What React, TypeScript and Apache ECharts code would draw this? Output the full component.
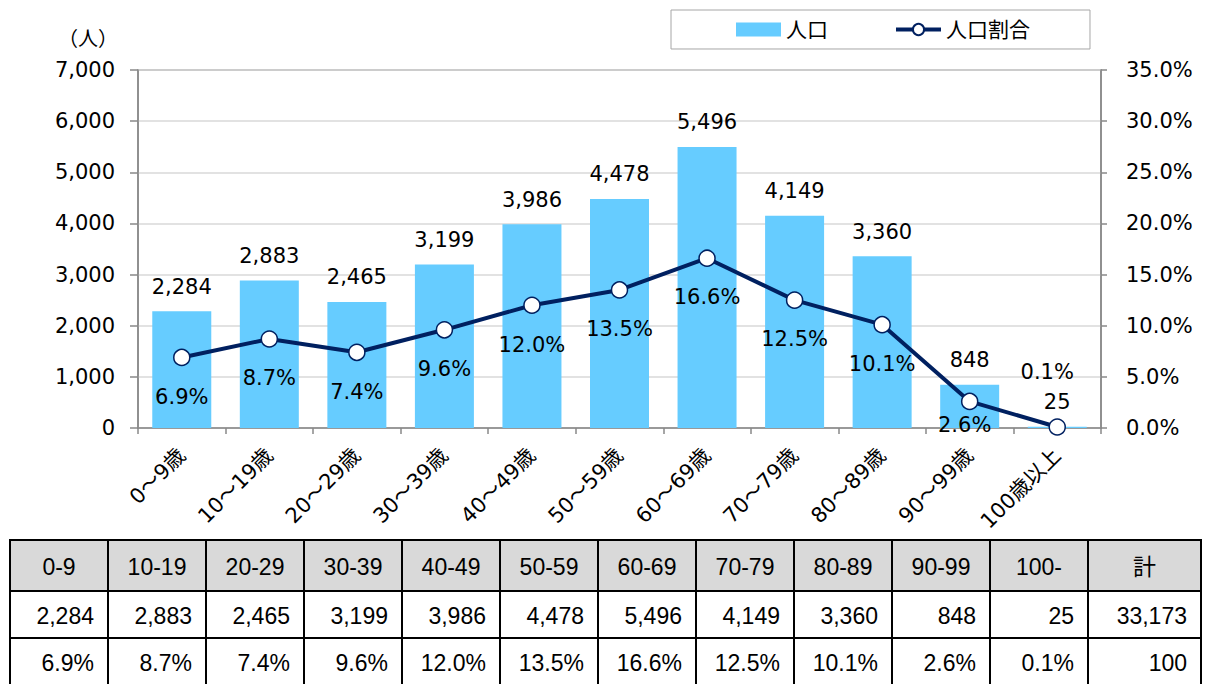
import React, { useEffect, useRef } from "react";
import * as echarts from "echarts";

// ---- data ----
const categories = ["0～9歳", "10～19歳", "20～29歳", "30～39歳", "40～49歳", "50～59歳", "60～69歳", "70～79歳", "80～89歳", "90～99歳", "100歳以上"];
const population = [2284, 2883, 2465, 3199, 3986, 4478, 5496, 4149, 3360, 848, 25];
const ratio = [6.9, 8.7, 7.4, 9.6, 12.0, 13.5, 16.6, 12.5, 10.1, 2.6, 0.1];
const seriesNames = ["人口", "人口割合"];
const unitLabel = "（人）";
const leftAxis = { min: 0, max: 7000, interval: 1000 };
const rightAxis = { min: 0, max: 35, interval: 5 };
const tableHeader = ["0-9", "10-19", "20-29", "30-39", "40-49", "50-59", "60-69", "70-79", "80-89", "90-99", "100-", "計"];
const totalRatioLabel = "100";

const FONT = '"DejaVu Sans", "Noto Sans CJK JP", sans-serif';
const TABLE_FONT = '"Liberation Sans", "Noto Sans CJK JP", sans-serif';
const BAR_COLOR = "#66CCFF";
const LINE_COLOR = "#002060";

const fmtInt = (v: number) => v.toLocaleString("en-US");
const fmtPct = (v: number) => v.toFixed(1) + "%";

function buildTable() {
  const total = population.reduce((a, b) => a + b, 0);
  const rows = [
    tableHeader,
    [...population.map(fmtInt), fmtInt(total)],
    [...ratio.map(fmtPct), totalRatioLabel],
  ];
  const x0 = 10;
  const colW = 98;
  const lastW = 113;
  const rowY = [540, 591, 638];
  const rowH = [51, 47, 47];
  const els: any[] = [];
  rows.forEach((row, r) => {
    row.forEach((txt, c) => {
      const x = x0 + c * colW;
      const w = c === row.length - 1 ? lastW : colW;
      els.push({
        type: "rect",
        shape: { x, y: rowY[r], width: w, height: rowH[r] },
        style: { fill: r === 0 ? "#D9D9D9" : "#fff", stroke: "#000", lineWidth: 2 },
        z: 1,
      });
    });
  });
  rows.forEach((row, r) => {
    row.forEach((txt, c) => {
      const x = x0 + c * colW;
      const w = c === row.length - 1 ? lastW : colW;
      els.push({
        type: "text",
        x: r === 0 ? x + w / 2 : x + w - 14,
        y: rowY[r] + rowH[r] / 2 + 1,
        style: {
          text: txt,
          fontSize: 23,
          fontFamily: TABLE_FONT,
          fill: "#000",
          textAlign: r === 0 ? "center" : "right",
          textVerticalAlign: "middle",
        },
        z: 2,
      });
    });
  });
  return els;
}

const lineLabelOverrides: Record<number, any> = {
  9: { position: "bottom", distance: 4, offset: [-5, 0] },
  10: { position: "top", distance: 36, offset: [-10, 0] },
};

export default function App() {
  const ref = useRef<HTMLDivElement>(null);
  useEffect(() => {
    if (!ref.current) return;
    const chart = echarts.init(ref.current, undefined, { renderer: "svg" });
    const axisLine = { show: true, lineStyle: { color: "#898989", width: 1.5 } };
    chart.setOption({
      animation: false,
      backgroundColor: "#fff",
      grid: { left: 138, right: 108, top: 70, bottom: 256, show: true, borderColor: "#898989", borderWidth: 1.5 },
      legend: {
        left: 671,
        top: 10,
        padding: [9, 60, 9, 65],
        itemGap: 66,
        itemWidth: 45,
        itemHeight: 14,
        borderColor: "#A6A6A6",
        borderWidth: 1,
        lineStyle: { width: "inherit" },
        textStyle: { fontSize: 21, fontFamily: FONT, color: "#000" },
        data: [{ name: seriesNames[0], icon: "rect" }, { name: seriesNames[1] }],
      },
      xAxis: {
        type: "category",
        data: categories,
        axisLine,
        axisTick: { show: true, length: 6, lineStyle: { color: "#898989", width: 1.5 } },
        axisLabel: { rotate: 45, interval: 0, margin: 24, fontSize: 21, fontFamily: FONT, color: "#000" },
      },
      yAxis: [
        {
          type: "value",
          ...leftAxis,
          axisLine,
          axisTick: { show: true, length: 8, lineStyle: { color: "#898989", width: 1.5 } },
          axisLabel: { margin: 23, fontSize: 21, fontFamily: FONT, color: "#000", formatter: (v: number) => fmtInt(v) },
          splitLine: { show: true, lineStyle: { color: "#D9D9D9", width: 1.5 } },
        },
        {
          type: "value",
          ...rightAxis,
          position: "right",
          axisLine,
          axisTick: { show: true, length: 6, lineStyle: { color: "#898989", width: 1.5 } },
          axisLabel: { margin: 25, fontSize: 21, fontFamily: FONT, color: "#000", formatter: (v: number) => fmtPct(v) },
          splitLine: { show: false },
        },
      ],
      series: [
        {
          name: seriesNames[0],
          type: "bar",
          data: population,
          barWidth: 59,
          itemStyle: { color: BAR_COLOR },
          label: {
            show: true,
            position: "top",
            distance: 14,
            fontSize: 21,
            fontFamily: FONT,
            color: "#000",
            formatter: (p: any) => fmtInt(p.value),
          },
          z: 2,
        },
        {
          name: seriesNames[1],
          type: "line",
          yAxisIndex: 1,
          data: ratio.map((v, i) => (lineLabelOverrides[i] ? { value: v, label: lineLabelOverrides[i] } : v)),
          symbol: "circle",
          symbolSize: 16,
          lineStyle: { color: LINE_COLOR, width: 4 },
          itemStyle: { color: "#fff", borderColor: LINE_COLOR, borderWidth: 1.5 },
          label: {
            show: true,
            position: "bottom",
            distance: 20,
            fontSize: 21,
            fontFamily: FONT,
            color: "#000",
            formatter: (p: any) => fmtPct(Number(p.value)),
          },
          z: 3,
        },
      ],
      graphic: [
        {
          type: "text",
          x: 88,
          y: 39,
          style: { text: unitLabel, fontSize: 20, fontFamily: FONT, fill: "#000", textAlign: "center", textVerticalAlign: "middle" },
        },
        ...buildTable(),
      ],
    });
    return () => chart.dispose();
  }, []);
  return <div ref={ref} style={{ position: "fixed", left: 0, top: 0, width: 1209, height: 684, background: "#fff" }} />;
}
